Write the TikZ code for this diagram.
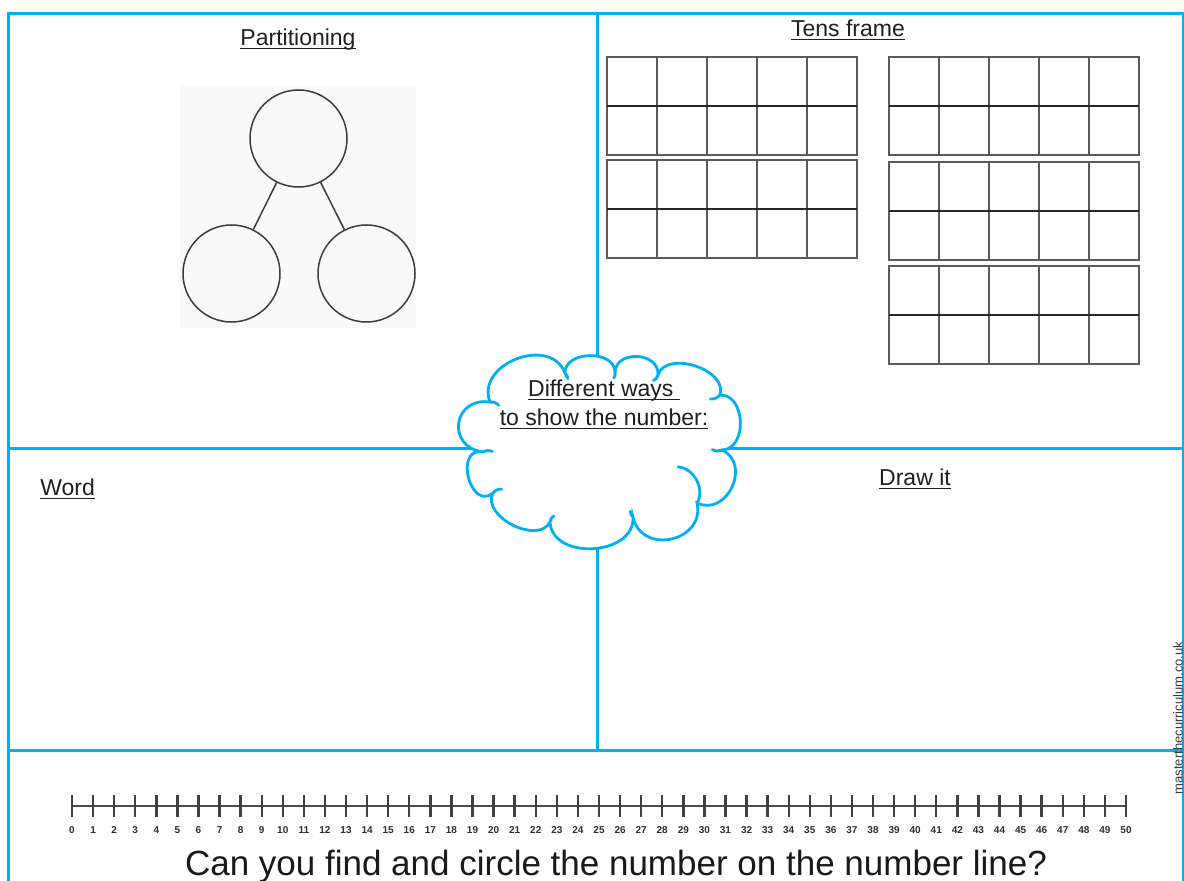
\documentclass[tikz,border=0pt]{standalone}
\usepackage{fontspec}
\setmainfont{Liberation Sans}
\usepackage{tikz}
\usetikzlibrary{calc,positioning}
\usepackage{xcolor}
\definecolor{frameblue}{HTML}{00B0F0}
\definecolor{inkgray}{HTML}{3C3C3C}
\definecolor{gridgray}{HTML}{5A5A5A}
\newcommand{\ulbase}[1]{\underline{\smash{#1}}}
\tikzset{
  panel/.style    = {draw=frameblue, line width=1.5pt},
  cloudline/.style= {draw=frameblue, line width=1.4pt, line cap=round},
  puff/.style     = {bend left=90, looseness=#1},
  bubble/.style   = {draw=inkgray, line width=0.75pt, circle, inner sep=0pt, minimum size=48.5pt},
  link/.style     = {draw=inkgray, line width=0.75pt},
  tenframe/.style = {draw=gridgray, line width=1pt},
  tenmid/.style   = {draw=black!85, line width=0.7pt},
  title/.style    = {anchor=base, text=black!88, inner sep=0pt},
  tickline/.style = {draw=black!75, line width=1.2pt},
  numlab/.style   = {anchor=base, font=\fontsize{5}{5}\selectfont\bfseries, text=black!82, inner sep=0pt},
}

\begin{document}
\begin{tikzpicture}[x=0.5pt,y=-0.5pt,font=\fontsize{11.5}{14.5}\selectfont]
\useasboundingbox (0,0) rectangle (1184,881);
\clip (0,0) rectangle (1184,881);
% panels
\draw[panel] (8.5,13.5) rectangle (1183.5,900);
\draw[panel] (597,13.5) -- (597,750.5);
\draw[panel] (8.5,448.5) -- (1183.5,448.5);
\draw[panel] (8.5,750.5) -- (1183.5,750.5);

% partitioning
\fill[black!2.5] (180,85) rectangle (416,328);
\node[title] (parttitle) at (298,46) {\ulbase{Partitioning}};
\node[bubble] (ptop) at (298.5,138.5) {};
\node[bubble] (pleft) at (231.5,273.5) {};
\node[bubble] (pright) at (366.5,273.5) {};
\draw[link] (ptop) -- (pleft);
\draw[link] (ptop) -- (pright);

% tens frames
\node[title] (tentitle) at (848,37) {\ulbase{Tens frame}};
\foreach \fx/\fy in {607/57, 607/160, 889/57, 889/162, 889/266} {
  \draw[tenframe] (\fx,\fy) rectangle ++(250,98);
  \foreach \c in {1,...,4}
    \draw[tenframe] (\fx+\c*50,\fy) -- ++(0,98);
  \draw[tenmid] (\fx,\fy+49) -- ++(250,0);
}

% other panels
\node[title, anchor=base west] (wordtitle) at (40,496) {\ulbase{Word}};
\node[title] (drawtitle) at (915,486) {\ulbase{Draw it}};

% cloud
\coordinate (cc) at (600,445);
\coordinate (j1) at (490,402);
\coordinate (j2) at (565,373);
\coordinate (j3) at (615,372);
\coordinate (j4) at (658,375);
\coordinate (j5) at (720,395);
\coordinate (j6) at (722,450);
\coordinate (j7) at (697,503);
\coordinate (j8) at (633,517);
\coordinate (j9) at (550,522);
\coordinate (j10) at (493,493);
\coordinate (j11) at (483,452);
\path[cloudline, fill=white] (j11) to[puff=1.9] (j1) to[puff=1.3] (j2)
  to[puff=1.15] (j3) to[puff=1.35] (j4) to[puff=1.05] (j5)
  to[puff=1.2] (j6) to[puff=1.45] (j7) to[puff=1.55] (j8)
  to[puff=1.2] (j9) to[puff=1.05] (j10) to[bend left=115, looseness=1.8] (j11) -- cycle;
\foreach \j in {j1,j2,j3,j4,j5,j6,j8,j9,j10,j11}
  \draw[cloudline] (\j) to[bend left=25] ($(\j)!0.08!(cc)$);
\draw[cloudline] (j7) to[bend right=60] (678,467);
\node[title, align=center] (cloudtext) at (604,426)
  {\ulbase{Different ways\ }\\\ulbase{to show the number:}};

% number line
\draw[line width=1.3pt, draw=black!70] (72,806) -- (1126,806);
\foreach \i in {0,...,50} {
  \draw[tickline] (72+\i*21.08,795) -- (72+\i*21.08,817);
  \node[numlab] (n\i) at (72+\i*21.08,834) {\i};
}
\node[anchor=base, font=\fontsize{17.5}{20}\selectfont, text=black!90] (ask) at (616,875)
  {Can you find and circle the number on the number line?};
\node[rotate=90, font=\fontsize{6.5}{7}\selectfont, text=inkgray, inner sep=0pt] (site) at (1178,718)
  {masterthecurriculum.co.uk};
\end{tikzpicture}
\end{document}
